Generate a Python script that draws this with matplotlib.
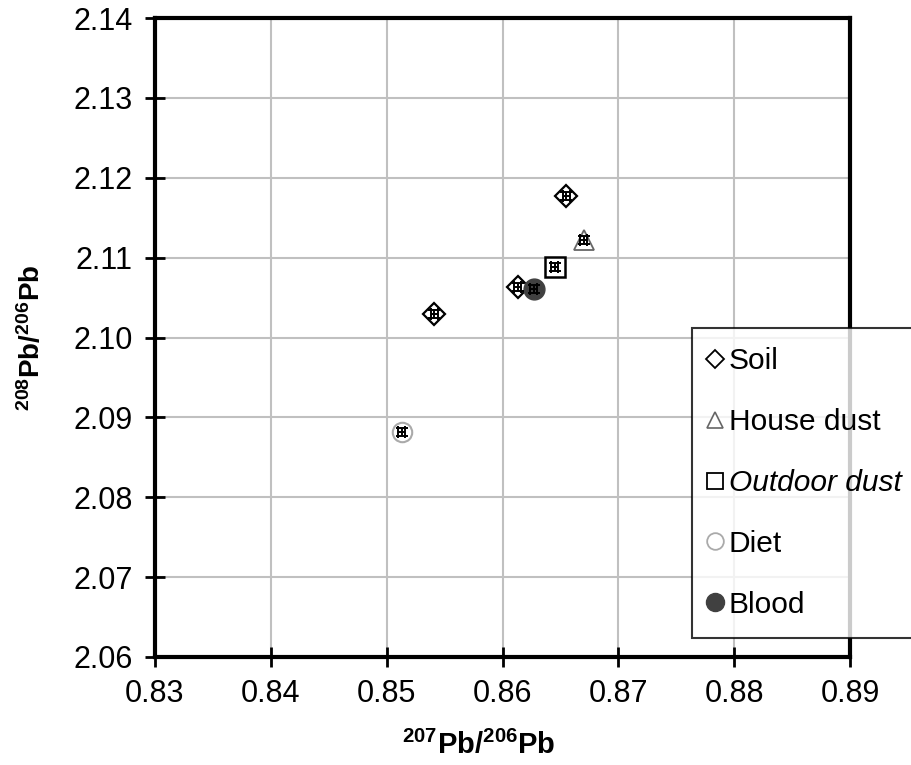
import matplotlib
matplotlib.use("Agg")
import matplotlib.pyplot as plt
from matplotlib.lines import Line2D

plt.rcParams['font.family'] = ['Liberation Sans', 'DejaVu Sans']
plt.rcParams['mathtext.fontset'] = 'custom'
plt.rcParams['mathtext.rm'] = 'Liberation Sans'
plt.rcParams['mathtext.bf'] = 'Liberation Sans:bold'

# Data (207Pb/206Pb, 208Pb/206Pb)
soil_x = [0.8655, 0.8541, 0.8613]
soil_y = [2.1177, 2.1029, 2.1063]
house_x = [0.8670]
house_y = [2.1122]
outdoor_x = [0.8645]
outdoor_y = [2.1088]
diet_x = [0.8513]
diet_y = [2.0882]
blood_x = [0.8627]
blood_y = [2.1061]
xerr_val = 0.0003
yerr_val = 0.0005

xticks = [0.83, 0.84, 0.85, 0.86, 0.87, 0.88, 0.89]
yticks = [2.06, 2.07, 2.08, 2.09, 2.10, 2.11, 2.12, 2.13, 2.14]

fig = plt.figure(figsize=(9.12, 7.65), dpi=100)
ax = fig.add_axes([155/912, 1-657/765, 695/912, 639/765])

series = [
    ("Soil", soil_x, soil_y, dict(marker='D', ms=11, mfc='white', mec='black', mew=1.6), dict(marker='D', ms=9, mfc='white', mec='black', mew=1.3)),
    ("House dust", house_x, house_y, dict(marker='^', ms=15, mfc='white', mec='#666666', mew=1.3), dict(marker='^', ms=12, mfc='white', mec='#666666', mew=1.2)),
    ("Outdoor dust", outdoor_x, outdoor_y, dict(marker='s', ms=15, mfc='white', mec='black', mew=1.8), dict(marker='s', ms=12, mfc='white', mec='black', mew=1.3)),
    ("Diet", diet_x, diet_y, dict(marker='o', ms=14, mfc='white', mec='#aaaaaa', mew=1.5), dict(marker='o', ms=12, mfc='white', mec='#aaaaaa', mew=1.3)),
    ("Blood", blood_x, blood_y, dict(marker='o', ms=15, mfc='#404040', mec='#404040', mew=1), dict(marker='o', ms=13, mfc='#404040', mec='#404040', mew=1)),
]

handles = []
for name, xs, ys, sty, lsty in series:
    ax.plot(xs, ys, ls='none', zorder=3, **sty)
    ax.errorbar(xs, ys, xerr=xerr_val, yerr=yerr_val, fmt='none', ecolor='black',
                elinewidth=1.4, capsize=4, capthick=1.4, zorder=4)
    handles.append(Line2D([], [], ls='none', label=name, **lsty))

ax.set_xlim(0.83, 0.89)
ax.set_ylim(2.06, 2.14)
ax.set_xticks(xticks)
ax.set_yticks(yticks)
ax.set_xticklabels([f"{v:.2f}" for v in xticks])
ax.set_yticklabels([f"{v:.2f}" for v in yticks])
ax.grid(True, color='#c0c0c0', lw=1.5)
ax.set_axisbelow(True)
for s in ax.spines.values():
    s.set_linewidth(3)
ax.tick_params(direction='inout', length=14, width=2, labelsize=22, pad=9)

ax.set_xlabel(r'$\mathbf{^{207}Pb/^{206}Pb}$', fontsize=21, labelpad=16)
ax.xaxis.set_label_coords(0.466, -0.115)
ax.set_ylabel(r'$\mathbf{^{208}Pb/^{206}Pb}$', fontsize=20, labelpad=20)

leg = ax.legend(handles=handles, loc='upper left', bbox_to_anchor=(0.772, 0.515),
                fontsize=21.5, frameon=True, fancybox=False, edgecolor='black',
                handlelength=0.3, handletextpad=0.3, labelspacing=1.1,
                borderpad=0.65, borderaxespad=0)
leg.get_frame().set_linewidth(1.5)
leg.get_texts()[2].set_style('italic')

fig.savefig('out.png', dpi=100)
